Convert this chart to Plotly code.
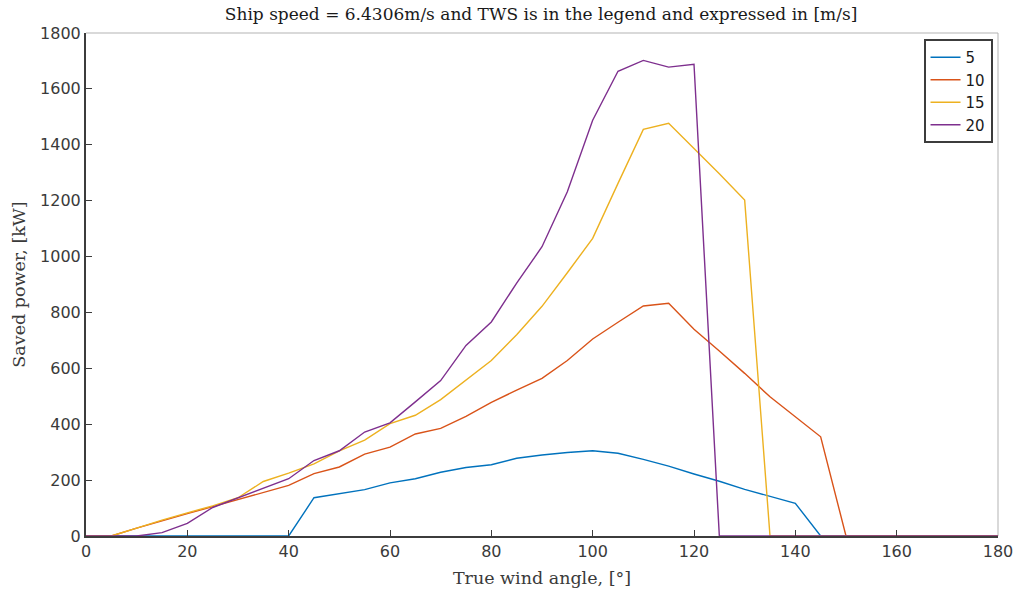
import plotly.graph_objects as go

# True wind angle in degrees
angles = [0, 5, 10, 15, 20, 25, 30, 35, 40, 45, 50, 55, 60, 65, 70, 75, 80, 85, 90,
          95, 100, 105, 110, 115, 120, 125, 130, 135, 140, 145, 150, 155, 160, 165,
          170, 175, 180]

# Saved power [kW] for each true wind speed [m/s]
tws_labels = ["5", "10", "15", "20"]
power_tws5 = [0, 0, 0, 0, 0, 0, 0, 0, 0, 137, 151, 166, 190, 205, 228, 245, 255, 278,
              290, 299, 305, 296, 274, 250, 222, 196, 167, 142, 117, 0, 0, 0, 0, 0, 0, 0, 0]
power_tws10 = [0, 0, 28, 55, 80, 105, 130, 157, 181, 223, 247, 293, 318, 365, 385, 428,
               478, 522, 564, 628, 705, 765, 823, 833, 740, 662, 582, 498, 427, 355, 0,
               0, 0, 0, 0, 0, 0]
power_tws15 = [0, 0, 28, 57, 83, 108, 137, 195, 225, 258, 305, 343, 402, 432, 488, 558,
               628, 720, 822, 942, 1065, 1262, 1455, 1477, 1388, 1296, 1202, 0, 0, 0, 0,
               0, 0, 0, 0, 0, 0]
power_tws20 = [0, 0, 0, 12, 45, 102, 137, 172, 205, 270, 305, 372, 405, 480, 556, 682,
               766, 905, 1035, 1232, 1488, 1663, 1702, 1678, 1688, 0, 0, 0, 0, 0, 0, 0, 0,
               0, 0, 0, 0]

series = [power_tws5, power_tws10, power_tws15, power_tws20]
colors = ["#0072BD", "#D95319", "#EDB120", "#7E2F8E"]

SERIF = "DejaVu Serif, serif"
SANS = "DejaVu Sans, sans-serif"

fig = go.Figure()
for label, values, color in zip(tws_labels, series, colors):
    fig.add_trace(go.Scatter(
        x=angles, y=values, mode="lines", name=label,
        line=dict(color=color, width=1.4),
    ))

axis_common = dict(
    showgrid=False, zeroline=False, automargin=False,
    showline=True, linecolor="#3c3c3c", linewidth=2,
    ticks="inside", ticklen=6, tickwidth=1.3, tickcolor="#3c3c3c",
    tickfont=dict(family=SANS, size=16, color="#3a3a3a"),
)

fig.update_layout(
    width=1017, height=592,
    margin=dict(l=86, r=19, t=33, b=56, autoexpand=False),
    paper_bgcolor="white", plot_bgcolor="white",
    title=dict(
        text="Ship speed = 6.4306m/s and TWS is in the legend and expressed in [m/s]",
        font=dict(family=SERIF, size=17, color="#1a1a1a"),
        x=0.532, xanchor="center", y=0.977, yanchor="middle",
    ),
    xaxis=dict(
        range=[0, 180], tickvals=[0, 20, 40, 60, 80, 100, 120, 140, 160, 180],
        title=dict(text="True wind angle, [°]", standoff=12,
                   font=dict(family=SERIF, size=17.5, color="#3a3a3a")),
        **axis_common,
    ),
    yaxis=dict(
        range=[0, 1800], tickvals=[0, 200, 400, 600, 800, 1000, 1200, 1400, 1600, 1800],
        title=dict(text="Saved power, [kW]", standoff=10,
                   font=dict(family=SERIF, size=17.5, color="#3a3a3a")),
        **axis_common,
    ),
    legend=dict(
        x=0.994, y=0.988, xanchor="right", yanchor="top",
        bgcolor="white", bordercolor="#3c3c3c", borderwidth=2,
        font=dict(family=SANS, size=15, color="#1a1a1a"),
        tracegroupgap=0, itemwidth=30,
    ),
    showlegend=True,
)

# light frame on the top and right edges of the axes box
fig.add_shape(type="line", xref="paper", yref="paper", x0=0, y0=1, x1=1, y1=1,
              line=dict(color="#b3b3b3", width=1), layer="below")
fig.add_shape(type="line", xref="paper", yref="paper", x0=1, y0=0, x1=1, y1=1,
              line=dict(color="#b3b3b3", width=1), layer="below")

fig.write_html("out.html")
